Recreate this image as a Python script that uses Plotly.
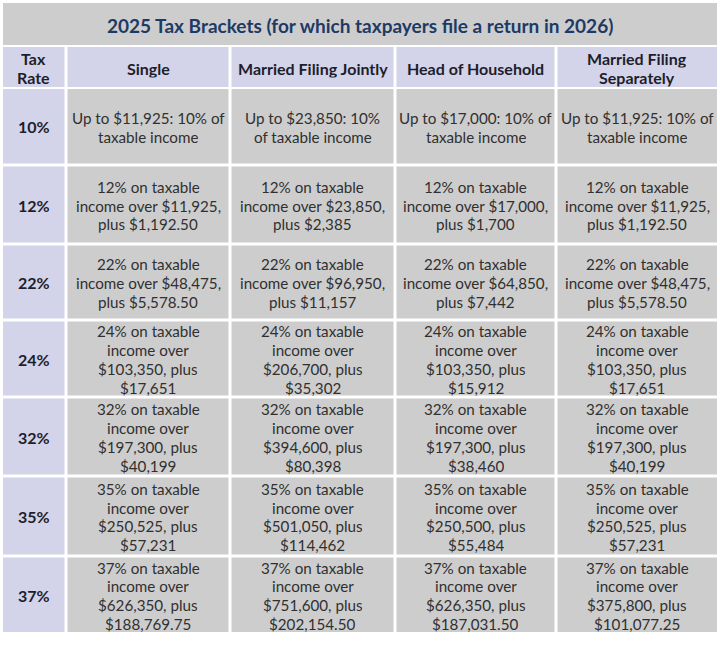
import plotly.graph_objects as go

# table content
title = "2025 Tax Brackets (for which taxpayers file a return in 2026)"
header = ["Tax<br>Rate", "Single", "Married Filing Jointly", "Head of Household",
          "Married Filing<br>Separately"]
rates = ["10%", "12%", "22%", "24%", "32%", "35%", "37%"]

single = [
    "Up to $11,925: 10% of<br>taxable income",
    "12% on taxable<br>income over $11,925,<br>plus $1,192.50",
    "22% on taxable<br>income over $48,475,<br>plus $5,578.50",
    "24% on taxable<br>income over<br>$103,350, plus<br>$17,651",
    "32% on taxable<br>income over<br>$197,300, plus<br>$40,199",
    "35% on taxable<br>income over<br>$250,525, plus<br>$57,231",
    "37% on taxable<br>income over<br>$626,350, plus<br>$188,769.75",
]
joint = [
    "Up to $23,850: 10%<br>of taxable income",
    "12% on taxable<br>income over $23,850,<br>plus $2,385",
    "22% on taxable<br>income over $96,950,<br>plus $11,157",
    "24% on taxable<br>income over<br>$206,700, plus<br>$35,302",
    "32% on taxable<br>income over<br>$394,600, plus<br>$80,398",
    "35% on taxable<br>income over<br>$501,050, plus<br>$114,462",
    "37% on taxable<br>income over<br>$751,600, plus<br>$202,154.50",
]
household = [
    "Up to $17,000: 10% of<br>taxable income",
    "12% on taxable<br>income over $17,000,<br>plus $1,700",
    "22% on taxable<br>income over $64,850,<br>plus $7,442",
    "24% on taxable<br>income over<br>$103,350, plus<br>$15,912",
    "32% on taxable<br>income over<br>$197,300, plus<br>$38,460",
    "35% on taxable<br>income over<br>$250,500, plus<br>$55,484",
    "37% on taxable<br>income over<br>$626,350, plus<br>$187,031.50",
]
separate = [
    "Up to $11,925: 10% of<br>taxable income",
    "12% on taxable<br>income over $11,925,<br>plus $1,192.50",
    "22% on taxable<br>income over $48,475,<br>plus $5,578.50",
    "24% on taxable<br>income over<br>$103,350, plus<br>$17,651",
    "32% on taxable<br>income over<br>$197,300, plus<br>$40,199",
    "35% on taxable<br>income over<br>$250,525, plus<br>$57,231",
    "37% on taxable<br>income over<br>$375,800, plus<br>$101,077.25",
]

# grid geometry (pixel units on the hidden axes)
col_edges = [3, 66, 230, 395, 556, 717]
title_band = (3, 45)
header_band = (47, 87)
row_edges = [89, 165, 244, 320, 397, 476, 556, 632]
gap = 1.5

GRAY = "#cdcdcd"
LAVENDER = "#d3d3ea"
FONT = "Lato"

fig = go.Figure()
shapes = []
annotations = []


def cell(x0, x1, y0, y1, fill, text, size, color, bold=False, pitch=18.7):
    shapes.append(dict(type="rect", xref="x", yref="y", x0=x0, x1=x1, y0=y0, y1=y1,
                       fillcolor=fill, line=dict(width=0), layer="below"))
    lines = text.split("<br>")
    mid = (y0 + y1) / 2 + 1
    for i, line in enumerate(lines):
        annotations.append(dict(
            x=(x0 + x1) / 2, y=mid + (i - (len(lines) - 1) / 2) * pitch,
            xref="x", yref="y",
            text="<b>%s</b>" % line if bold else line,
            showarrow=False, align="center", valign="middle",
            borderpad=0, height=pitch - 1,
            font=dict(family=FONT, size=size, color=color)))


# title band spanning the whole table
cell(col_edges[0], col_edges[-1], title_band[0], title_band[1], GRAY, title, 19,
     "#1d3a66", bold=True, pitch=24)

columns = [rates, single, joint, household, separate]
for c, label in enumerate(header):
    x0 = col_edges[c] + (gap if c > 0 else 0)
    x1 = col_edges[c + 1] - (gap if c < len(header) - 1 else 0)
    cell(x0, x1, header_band[0], header_band[1], LAVENDER, label, 16, "#1e1e2a",
         bold=True, pitch=19.5)
    for r, text in enumerate(columns[c]):
        y0 = row_edges[r] + (gap if r > 0 else 0)
        y1 = row_edges[r + 1] - (gap if r < len(rates) - 1 else 0)
        if c == 0:
            cell(x0, x1, y0, y1, LAVENDER, text, 16, "#1e1e2a", bold=True)
        else:
            cell(x0, x1, y0, y1, GRAY, text, 15.2, "#303030")

fig.update_layout(
    width=720, height=653,
    margin=dict(l=0, r=0, t=0, b=0),
    paper_bgcolor="white", plot_bgcolor="white",
    xaxis=dict(range=[0, 720], visible=False, fixedrange=True),
    yaxis=dict(range=[653, 0], visible=False, fixedrange=True),
    shapes=shapes, annotations=annotations,
    showlegend=False,
)

# drop the browser's default page margin so the figure sits at the window origin
fig.write_html("out.html", config={"displayModeBar": False},
               post_script="document.body.style.margin = '0';")
